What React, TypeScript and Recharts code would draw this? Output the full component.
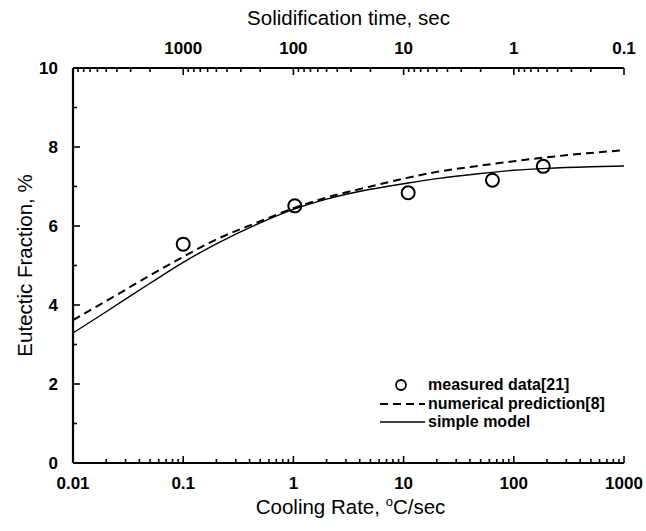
import React from "react";
import { ComposedChart, Line, Scatter, XAxis, YAxis, Legend } from "recharts";

// cooling rate (°C/sec) vs eutectic fraction (%)
const coolingRates = [0.01, 0.02, 0.05, 0.1, 0.2, 0.5, 1, 2, 5, 10, 20, 50, 100, 200, 500, 1000];
const numericalPrediction = [3.62, 4.1, 4.75, 5.22, 5.66, 6.12, 6.45, 6.72, 7.0, 7.2, 7.37, 7.53, 7.64, 7.74, 7.85, 7.92];
const simpleModel = [3.29, 3.83, 4.55, 5.08, 5.55, 6.08, 6.42, 6.68, 6.93, 7.07, 7.2, 7.33, 7.41, 7.46, 7.5, 7.52];

const measuredRates = [0.1, 1.03, 11, 64, 185];
const measuredFraction = [5.54, 6.51, 6.84, 7.16, 7.51];

// axis ticks
const coolingMajors = [0.01, 0.1, 1, 10, 100, 1000];
const timeMajors = [1000, 100, 10, 1, 0.1];
const fractionTicks = [0, 1, 2, 3, 4, 5, 6, 7, 8, 9, 10];
const TIME_X_RATE = 100; // solidification time * cooling rate

const FONT = '"Liberation Sans", Arial, sans-serif';

const numericalData = coolingRates.map((x, i) => ({ x, y: numericalPrediction[i] }));
const simpleData = coolingRates.map((x, i) => ({ x, y: simpleModel[i] }));
const measuredData = measuredRates.map((x, i) => ({ x, y: measuredFraction[i] }));

const minorSteps = [2, 3, 4, 5, 6, 7, 8, 9];
const bottomTicks = [
  ...coolingMajors,
  ...coolingMajors.slice(0, -1).flatMap((m) => minorSteps.map((k) => m * k)),
];
const topTicks = [
  ...timeMajors.map((t) => TIME_X_RATE / t),
  ...timeMajors.flatMap((t) => minorSteps.map((k) => TIME_X_RATE / (t * k))),
];

const isDecade = (v: number) => Math.abs(Math.log10(v) - Math.round(Math.log10(v))) < 1e-6;
const fmt = (v: number) => String(parseFloat(v.toPrecision(8)));

const tickText = { fontFamily: FONT, fontSize: 17, fontWeight: "bold" as const };

function BottomTick(props: any) {
  const { x, y, payload } = props;
  const major = isDecade(payload.value);
  return (
    <g>
      <line x1={x} x2={x} y1={y} y2={y - (major ? 7 : 4)} stroke="#000" strokeWidth={1.6} />
      {major && (
        <text x={x} y={y + 26} textAnchor="middle" fill="#000" style={tickText}>
          {fmt(payload.value)}
        </text>
      )}
    </g>
  );
}

function TopTick(props: any) {
  const { x, y, payload } = props;
  const time = TIME_X_RATE / payload.value;
  const major = isDecade(time);
  return (
    <g>
      <line x1={x} x2={x} y1={y} y2={y + (major ? 7 : 4)} stroke="#000" strokeWidth={1.6} />
      {major && timeMajors.some((t) => Math.abs(t - time) < 1e-6 * t) && (
        <text x={x} y={y - 14} textAnchor="middle" fill="#000" style={tickText}>
          {fmt(time)}
        </text>
      )}
    </g>
  );
}

function LeftTick(props: any) {
  const { x, y, payload } = props;
  const major = payload.value % 2 === 0;
  return (
    <g>
      <line x1={x} x2={x + (major ? 7 : 4)} y1={y} y2={y} stroke="#000" strokeWidth={1.6} />
      {major && (
        <text x={x - 15} y={y + 6} textAnchor="end" fill="#000" style={tickText}>
          {payload.value}
        </text>
      )}
    </g>
  );
}

function RightTick(props: any) {
  const { x, y, payload } = props;
  const major = payload.value % 2 === 0;
  return <line x1={x} x2={x - (major ? 7 : 4)} y1={y} y2={y} stroke="#000" strokeWidth={1.6} />;
}

const titleStyle = { fontFamily: FONT, fontSize: 20.5 };

const BottomTitle = (props: any) => {
  const vb = props.viewBox;
  return (
    <text x={vb.x + vb.width / 2 + 2} y={vb.y + vb.height + 11} textAnchor="middle" fill="#000" style={titleStyle}>
      <tspan>Cooling Rate, </tspan>
      <tspan dy={-8} fontSize={13}>o</tspan>
      <tspan dy={8}>C/sec</tspan>
    </text>
  );
};

const TopTitle = (props: any) => {
  const vb = props.viewBox;
  return (
    <text x={vb.x + vb.width / 2} y={vb.y - 3} textAnchor="middle" fill="#000" style={titleStyle}>
      Solidification time, sec
    </text>
  );
};

const LeftTitle = (props: any) => {
  const vb = props.viewBox;
  const cx = vb.x + 11;
  const cy = vb.y + vb.height / 2;
  return (
    <text
      x={cx}
      y={cy}
      textAnchor="middle"
      dominantBaseline="central"
      transform={`rotate(-90, ${cx}, ${cy})`}
      fill="#000"
      style={titleStyle}
    >
      Eutectic Fraction, %
    </text>
  );
};

function LegendContent(props: any) {
  const { payload } = props;
  return (
    <div style={{ fontFamily: FONT, fontSize: 16, fontWeight: "bold", color: "#000" }}>
      {(payload || []).map((entry: any) => {
        const dash = entry.payload?.strokeDasharray;
        return (
          <div key={entry.value} style={{ display: "flex", alignItems: "center", height: 18.5 }}>
            <svg width={49} height={18} style={{ flex: "none" }}>
              {entry.type === "circle" ? (
                <circle cx={22} cy={9} r={5} fill="none" stroke="#000" strokeWidth={1.8} />
              ) : (
                <line x1={1} x2={46} y1={9} y2={9} stroke="#000" strokeWidth={dash ? 2 : 1.3} strokeDasharray={dash} />
              )}
            </svg>
            <span style={{ whiteSpace: "nowrap" }}>{entry.value}</span>
          </div>
        );
      })}
    </div>
  );
}

const HollowCircle = (props: any) => (
  <circle cx={props.cx} cy={props.cy} r={6.5} fill="none" stroke="#000" strokeWidth={2} />
);

const frameLine = { stroke: "#000", strokeWidth: 2.2 };

export default function App() {
  return (
    <div style={{ position: "absolute", left: 0, top: 0, width: 646, height: 531, background: "#fff" }}>
      <ComposedChart width={646} height={531} margin={{ top: 28, right: 22, bottom: 28, left: 13 }}>
        <XAxis
          dataKey="x"
          type="number"
          scale="log"
          domain={[0.01, 1000]}
          allowDataOverflow
          ticks={bottomTicks}
          interval={0}
          tickSize={0}
          tickMargin={0}
          height={40}
          tick={<BottomTick />}
          axisLine={frameLine}
          label={{ content: <BottomTitle /> }}
        />
        <XAxis
          xAxisId="top"
          orientation="top"
          dataKey="x"
          type="number"
          scale="log"
          domain={[0.01, 1000]}
          allowDataOverflow
          ticks={topTicks}
          interval={0}
          tickSize={0}
          tickMargin={0}
          height={40}
          tick={<TopTick />}
          axisLine={frameLine}
          label={{ content: <TopTitle /> }}
        />
        <YAxis
          type="number"
          domain={[0, 10]}
          ticks={fractionTicks}
          interval={0}
          tickSize={0}
          tickMargin={0}
          width={60}
          tick={<LeftTick />}
          axisLine={frameLine}
          label={{ content: <LeftTitle /> }}
        />
        <YAxis
          yAxisId="right"
          orientation="right"
          type="number"
          domain={[0, 10]}
          ticks={fractionTicks}
          interval={0}
          tickSize={0}
          tickMargin={0}
          width={0}
          tick={<RightTick />}
          axisLine={frameLine}
        />
        <Line
          data={numericalData}
          dataKey="y"
          name="numerical prediction[8]"
          type="monotone"
          stroke="#000"
          strokeWidth={2}
          strokeDasharray="8 5"
          dot={false}
          legendType="line"
          isAnimationActive={false}
        />
        <Line
          data={simpleData}
          dataKey="y"
          name="simple model"
          type="monotone"
          stroke="#000"
          strokeWidth={1.4}
          dot={false}
          legendType="line"
          isAnimationActive={false}
        />
        <Scatter
          data={measuredData}
          dataKey="y"
          name="measured data[21]"
          shape={<HollowCircle />}
          legendType="circle"
          isAnimationActive={false}
        />
        <Legend
          layout="vertical"
          align="center"
          verticalAlign="middle"
          content={<LegendContent />}
          wrapperStyle={{ left: 379, top: 376, width: "auto" }}
        />
      </ComposedChart>
    </div>
  );
}
